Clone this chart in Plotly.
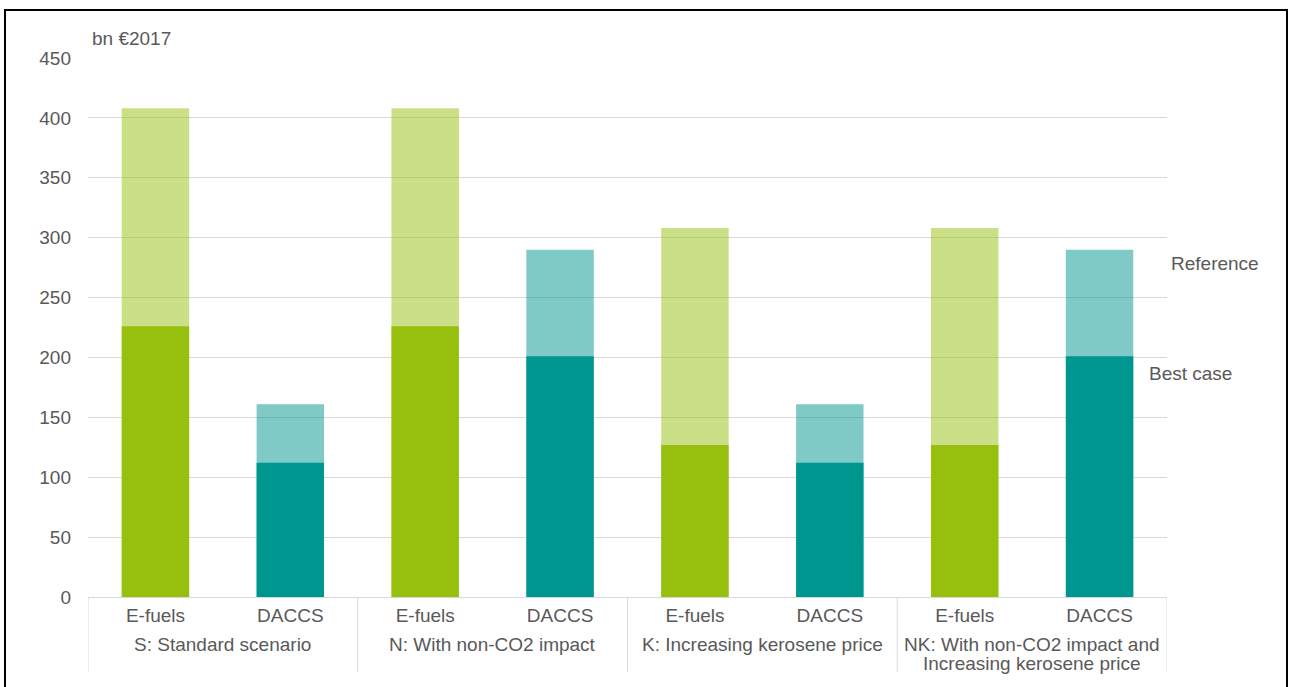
import plotly.graph_objects as go

# ---- data ----
scenarios = ["S: Standard scenario", "N: With non-CO2 impact",
             "K: Increasing kerosene price",
             "NK: With non-CO2 impact and<br>Increasing kerosene price"]
technologies = ["E-fuels", "DACCS"]
best_case = [226, 112, 226, 201, 127, 112, 127, 201]
reference = [408, 161, 408, 290, 308, 161, 308, 290]
y_ticks = [0, 50, 100, 150, 200, 250, 300, 350, 400, 450]
unit_label = "bn €2017"
series_names = ["Reference", "Best case"]

# ---- styling ----
dark = {"E-fuels": "rgb(151,191,13)", "DACCS": "rgb(0,150,144)"}
light = {"E-fuels": "rgba(151,191,13,0.5)", "DACCS": "rgba(0,150,144,0.5)"}
txt = "#595959"
grid = "#d9d9d9"
FONT = "Liberation Sans, Arial, sans-serif"
FS = 19

n_tech = len(technologies)
xs = list(range(len(scenarios) * n_tech))
tech_of = [technologies[i % n_tech] for i in xs]

fig = go.Figure()
fig.add_trace(go.Bar(x=xs, y=reference, width=0.5, name=series_names[0],
                     marker=dict(color=[light[t] for t in tech_of], line=dict(width=0)),
                     showlegend=False))
fig.add_trace(go.Bar(x=xs, y=best_case, width=0.5, name=series_names[1],
                     marker=dict(color=[dark[t] for t in tech_of], line=dict(width=0)),
                     showlegend=False))

W, H = 1293, 687
L, R, T, B = 88, 1293 - 1167, 58, 687 - 597
ph = H - T - B
pw = W - L - R

def py(pix):  # pixel y -> paper y
    return (H - B - pix) / ph

def px(pix):
    return (pix - L) / pw

annotations = []
# group labels (each line placed separately for tight line spacing)
for gi, s in enumerate(scenarios):
    for li, line in enumerate(s.split("<br>")):
        annotations.append(dict(x=gi * n_tech + (n_tech - 1) / 2, y=py(644 + 19 * li),
                                xref="x", yref="paper", text=line, showarrow=False,
                                xanchor="center", yanchor="middle",
                                font=dict(family=FONT, size=FS, color=txt)))
annotations.append(dict(x=px(90), y=py(38), xref="paper", yref="paper", text=unit_label,
                        showarrow=False, xanchor="left", yanchor="middle",
                        font=dict(family=FONT, size=FS, color=txt)))
annotations.append(dict(x=px(1169), y=py(263), xref="paper", yref="paper", text=series_names[0],
                        showarrow=False, xanchor="left", yanchor="middle",
                        font=dict(family=FONT, size=FS, color=txt)))
annotations.append(dict(x=px(1147), y=py(373), xref="paper", yref="paper", text=series_names[1],
                        showarrow=False, xanchor="left", yanchor="middle",
                        font=dict(family=FONT, size=FS, color=txt)))

shapes = []
for gi in range(len(scenarios) + 1):
    xv = gi * n_tech - 0.5
    shapes.append(dict(type="line", xref="x", yref="paper", x0=xv, x1=xv,
                       y0=0, y1=py(672), line=dict(color=grid, width=1)))
# outer frame (bottom edge falls outside the picture)
shapes.append(dict(type="rect", xref="paper", yref="paper",
                   x0=px(5), x1=px(1287), y0=py(695), y1=py(10),
                   line=dict(color="black", width=2)))

fig.update_layout(
    width=W, height=H,
    margin=dict(l=L, r=R, t=T, b=B, autoexpand=False),
    barmode="overlay",
    plot_bgcolor="white", paper_bgcolor="white",
    font=dict(family=FONT, size=FS, color=txt),
    annotations=annotations, shapes=shapes,
    xaxis=dict(range=[-0.5, len(xs) - 0.5], tickvals=xs, ticktext=tech_of,
               showgrid=False, zeroline=False, showline=True, linecolor=grid,
               ticks="", tickfont=dict(family=FONT, size=FS, color=txt),
               ticklabelstandoff=1),
    yaxis=dict(range=[0, 450], tickvals=y_ticks, showgrid=True, gridcolor=grid,
               zeroline=False, showline=False, ticks="",
               tickfont=dict(family=FONT, size=FS, color=txt),
               ticklabelstandoff=16),
)

fig.write_html("out.html", config={"displayModeBar": False},
               post_script="document.body.style.margin='0';document.body.style.overflow='hidden';")
